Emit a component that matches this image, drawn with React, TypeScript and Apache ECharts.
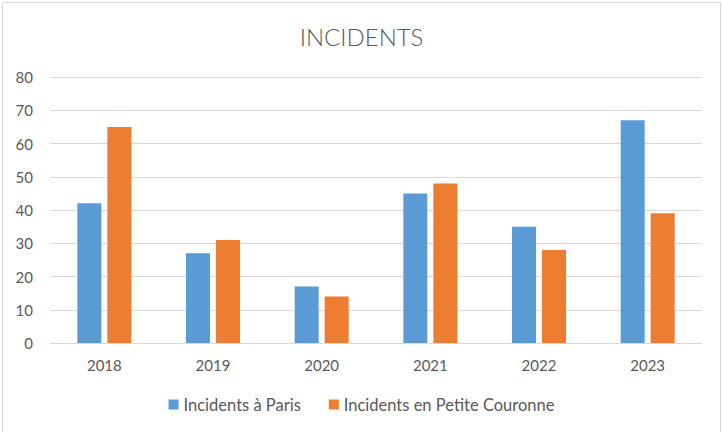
import React, { useEffect, useRef } from "react";
import * as echarts from "echarts";

const years = ["2018", "2019", "2020", "2021", "2022", "2023"];
const parisIncidents = [42, 27, 17, 45, 35, 67];
const couronneIncidents = [65, 31, 14, 48, 28, 39];
const seriesNames = ["Incidents à Paris", "Incidents en Petite Couronne"];
const titleText = "INCIDENTS";

export default function App() {
  const ref = useRef<HTMLDivElement>(null);
  useEffect(() => {
    document.body.style.margin = "0";
    const chart = echarts.init(ref.current!, null, { renderer: "svg" });
    const font = "Lato, 'Open Sans', sans-serif";
    chart.setOption({
      animation: false,
      backgroundColor: "#ffffff",
      textStyle: { fontFamily: font },
      title: {
        text: titleText,
        left: "center",
        top: 19,
        textStyle: { fontFamily: font, fontSize: 24, fontWeight: 300, color: "#595959" },
      },
      graphic: [
        {
          type: "rect",
          shape: { x: 2.5, y: 2.5, width: 718, height: 440 },
          style: { fill: "none", stroke: "#d9d9d9", lineWidth: 1 },
          silent: true,
        },
      ],
      legend: {
        bottom: 14,
        left: "center",
        itemWidth: 10,
        itemHeight: 10,
        itemGap: 28,
        itemTextGap: 6,
        icon: "rect",
        textStyle: { fontFamily: font, fontSize: 16.5, color: "#595959" },
        data: seriesNames,
      },
      grid: { left: 50, right: 21, top: 77, bottom: 89, containLabel: false },
      xAxis: {
        type: "category",
        data: years,
        axisLine: { lineStyle: { color: "#d9d9d9" } },
        axisTick: { show: false },
        axisLabel: { color: "#595959", fontSize: 15, margin: 14, fontFamily: font },
      },
      yAxis: {
        type: "value",
        min: 0,
        max: 80,
        interval: 10,
        axisLine: { show: false },
        axisTick: { show: false },
        axisLabel: { color: "#595959", fontSize: 15, margin: 17, fontFamily: font },
        splitLine: { lineStyle: { color: "#d9d9d9", width: 1 } },
      },
      series: [
        {
          name: seriesNames[0],
          type: "bar",
          data: parisIncidents,
          barWidth: 24,
          barGap: "25%",
          itemStyle: { color: "#5b9bd5" },
        },
        {
          name: seriesNames[1],
          type: "bar",
          data: couronneIncidents,
          barWidth: 24,
          barGap: "25%",
          itemStyle: { color: "#ed7d31" },
        },
      ],
    });
    return () => chart.dispose();
  }, []);
  return <div ref={ref} style={{ width: 723, height: 432 }} />;
}
